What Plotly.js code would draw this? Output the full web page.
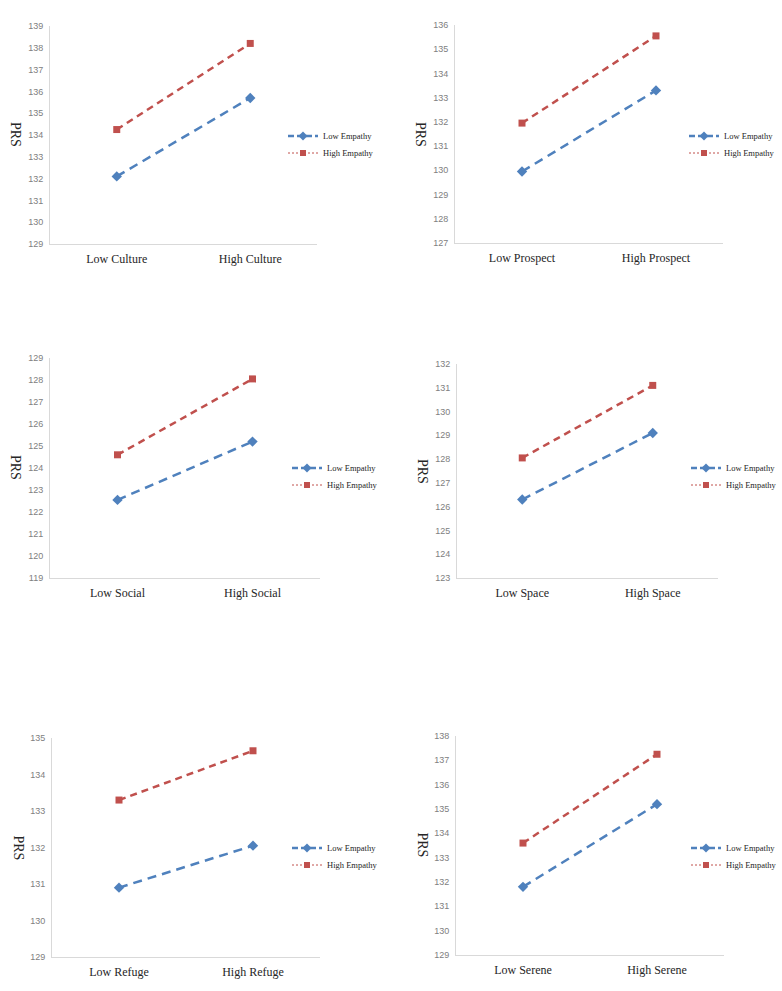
<!DOCTYPE html>
<html>
<head>
<meta charset="utf-8">
<script src="https://cdn.plot.ly/plotly-3.0.1.min.js"></script>
<style>html,body{margin:0;padding:0;background:#fff;}#chart{width:782px;height:991px;}</style>
</head>
<body>
<div id="chart"></div>
<script>
// ---- data ----
const factors = ["Culture", "Prospect", "Social", "Space", "Refuge", "Serene"];
const levels = ["Low", "High"];
const seriesNames = ["Low Empathy", "High Empathy"];
const lowEmpathy = [
  [132.1, 135.7],
  [129.95, 133.3],
  [122.55, 125.2],
  [126.3, 129.1],
  [130.9, 132.05],
  [131.8, 135.2]
];
const highEmpathy = [
  [134.25, 138.2],
  [131.95, 135.55],
  [124.6, 128.05],
  [128.05, 131.1],
  [133.3, 134.65],
  [133.6, 137.25]
];
const yMin = [129, 127, 119, 123, 129, 129];
const yMax = [139, 136, 129, 132, 135, 138];
const yTitle = "PRS";

// ---- layout geometry (pixels) ----
const W = 782, H = 991;
const boxes = [
  {l: 50, r: 317, t: 26, b: 244, legX: 283, legY: 136},
  {l: 455, r: 723, t: 25, b: 243, legX: 684, legY: 136},
  {l: 50, r: 320, t: 358, b: 578, legX: 287, legY: 468},
  {l: 457, r: 718, t: 364, b: 578, legX: 686, legY: 468},
  {l: 52, r: 320, t: 738, b: 957, legX: 287, legY: 848},
  {l: 456, r: 724, t: 736, b: 955, legX: 686, legY: 848}
];
const LEG_GAP = 17;
const BLUE = "#4F81BD", RED = "#C0504D";

const traces = [];
const layout = {
  width: W, height: H,
  margin: {l: 0, r: 0, t: 0, b: 0},
  paper_bgcolor: "#fff", plot_bgcolor: "#fff",
  showlegend: true,
  annotations: []
};

function legendName(k) { return k === 1 ? "legend" : "legend" + k; }

factors.forEach((f, i) => {
  const n = i === 0 ? "" : String(i + 1);
  const xa = "x" + n, ya = "y" + n;
  const cats = levels.map(l => l + " " + f);
  const lgLow = legendName(2 * i + 1), lgHigh = legendName(2 * i + 2);
  // data lines
  traces.push({
    x: cats, y: lowEmpathy[i], xaxis: xa, yaxis: ya, type: "scatter", mode: "lines+markers",
    name: seriesNames[0], showlegend: false,
    line: {color: BLUE, width: 2.5, dash: "9px,6px"},
    marker: {symbol: "diamond", size: 8, color: BLUE}
  });
  traces.push({
    x: cats, y: highEmpathy[i], xaxis: xa, yaxis: ya, type: "scatter", mode: "lines+markers",
    name: seriesNames[1], showlegend: false,
    line: {color: RED, width: 2.5, dash: "7px,5px"},
    marker: {symbol: "square", size: 7, color: RED}
  });
  // legend entries
  traces.push({
    x: [null], y: [null], xaxis: xa, yaxis: ya, type: "scatter", mode: "lines+markers",
    name: seriesNames[0], legend: lgLow, showlegend: true,
    line: {color: BLUE, width: 2.5, dash: "6px,3px"},
    marker: {symbol: "diamond", size: 7, color: BLUE}
  });
  traces.push({
    x: [null], y: [null], xaxis: xa, yaxis: ya, type: "scatter", mode: "lines+markers",
    name: seriesNames[1], legend: lgHigh, showlegend: true,
    line: {color: RED, width: 1, dash: "2px,2px"},
    marker: {symbol: "square", size: 6, color: RED}
  });

  const b = boxes[i];
  const xKey = "xaxis" + n, yKey = "yaxis" + n;
  layout[xKey] = {
    domain: [b.l / W, b.r / W], anchor: ya, type: "category",
    range: [-0.5, 1.5], showgrid: false, zeroline: false,
    showline: true, linecolor: "#D9D9D9", linewidth: 1,
    ticks: "", ticklabelstandoff: 4,
    tickfont: {family: "Liberation Serif", size: 12, color: "#262626"},
    fixedrange: true
  };
  layout[yKey] = {
    domain: [1 - b.b / H, 1 - b.t / H], anchor: xa,
    range: [yMin[i], yMax[i]], dtick: 1, tick0: yMin[i],
    showgrid: false, zeroline: false,
    showline: true, linecolor: "#D9D9D9", linewidth: 1,
    ticks: "", ticklabelstandoff: 4,
    tickfont: {family: "Liberation Sans", size: 9, color: "#808080"},
    fixedrange: true
  };
  [[lgLow, b.legY], [lgHigh, b.legY + LEG_GAP]].forEach(([lg, cy]) => {
    layout[lg] = {
      x: b.legX / W, y: 1 - cy / H, xanchor: "left", yanchor: "middle",
      xref: "paper", yref: "paper",
      bgcolor: "rgba(0,0,0,0)", borderwidth: 0,
      font: {family: "Liberation Serif", size: 8.5, color: "#262626"},
      itemwidth: 30
    };
  });
  layout.annotations.push({
    text: yTitle, xref: "paper", yref: "paper",
    x: 17 / W + (b.l - 51) / W, y: 1 - ((b.t + b.b) / 2) / H,
    xanchor: "center", yanchor: "middle",
    showarrow: false, textangle: 90,
    font: {family: "Liberation Serif", size: 14, color: "#262626"}
  });
});

Plotly.newPlot("chart", traces, layout, {displayModeBar: false, staticPlot: true});
</script>
</body>
</html>
